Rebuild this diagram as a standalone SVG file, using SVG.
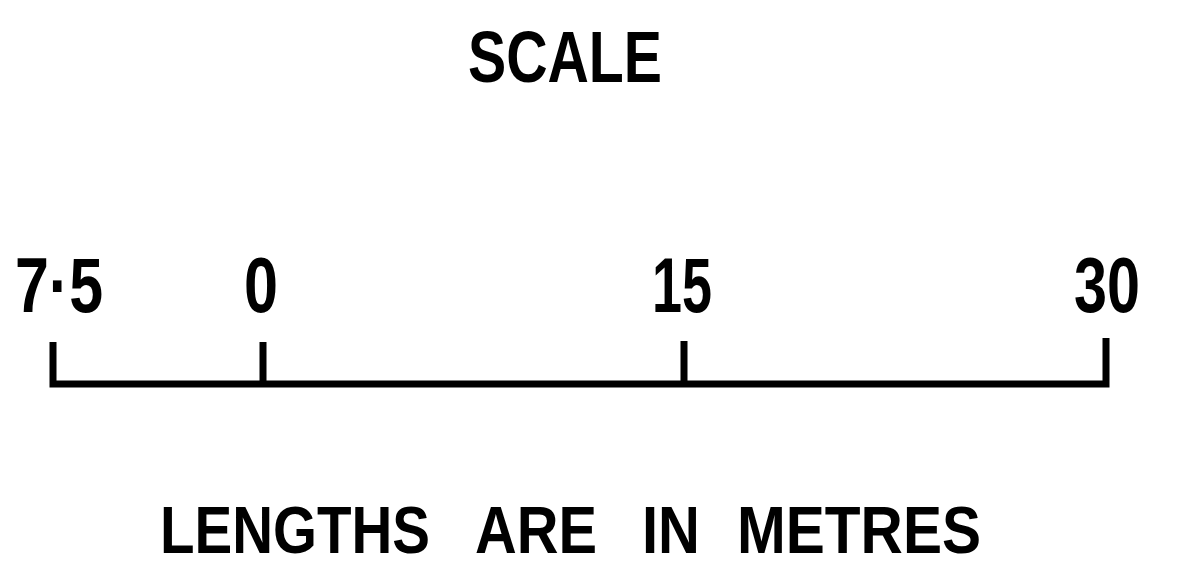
<svg xmlns="http://www.w3.org/2000/svg" width="1183" height="583" viewBox="0 0 1183 583">
<style>
text{font-family:"Liberation Sans",Arial,sans-serif;fill:#000;font-weight:bold}
.num{font-size:77px}
.lbl{font-size:67px}
.bar{fill:none;stroke:#000;stroke-width:7;stroke-linecap:butt;stroke-linejoin:miter}
</style>
<rect width="1183" height="583" fill="#fff"/>
<g id="title"><text x="468" y="82" font-size="73" textLength="194" lengthAdjust="spacingAndGlyphs">SCALE</text></g>
<g id="bar">
<path class="bar" d="M53,342 V384 H1106 V338"/>
<path class="bar" d="M263,342 V384 M684,341 V384"/>
</g>
<g id="labels">
<text class="num" x="15" y="312" textLength="88" lengthAdjust="spacingAndGlyphs">7·5</text>
<text class="num" x="244" y="312" textLength="34" lengthAdjust="spacingAndGlyphs">0</text>
<text class="num" x="652" y="312" textLength="60" lengthAdjust="spacingAndGlyphs">15</text>
<text class="num" x="1074" y="312" textLength="66" lengthAdjust="spacingAndGlyphs">30</text>
</g>
<g id="note">
<text class="lbl" x="160" y="553" textLength="270" lengthAdjust="spacingAndGlyphs">LENGTHS</text>
<text class="lbl" x="475" y="553" textLength="122" lengthAdjust="spacingAndGlyphs">ARE</text>
<text class="lbl" x="642" y="553" textLength="58" lengthAdjust="spacingAndGlyphs">IN</text>
<text class="lbl" x="737" y="553" textLength="244" lengthAdjust="spacingAndGlyphs">METRES</text>
</g>
</svg>
